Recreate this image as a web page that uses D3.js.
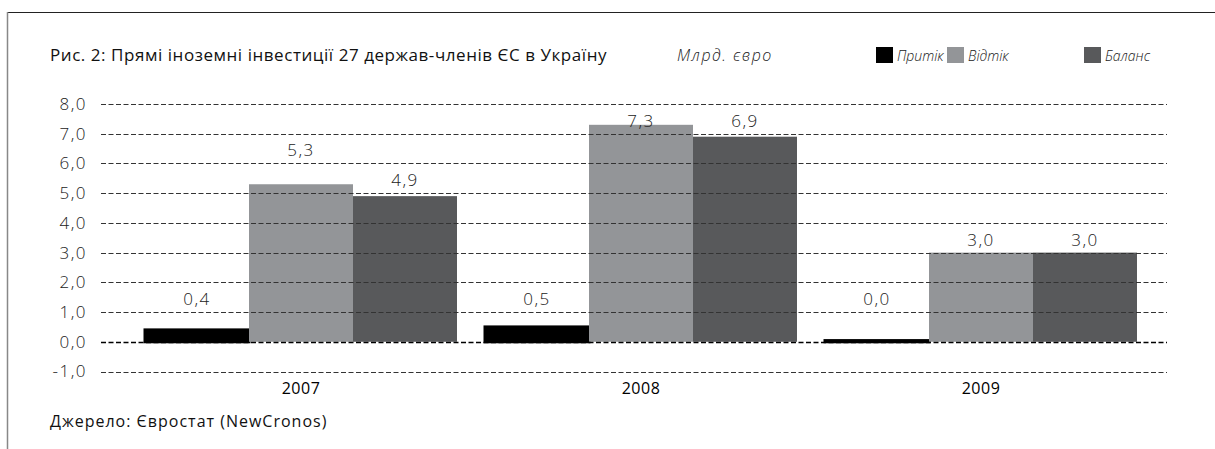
<!DOCTYPE html>
<html>
<head>
<meta charset="utf-8">
<script src="https://cdn.jsdelivr.net/npm/d3@7"></script>
<style>
  body { margin: 0; background: #fff; }
  svg { display: block; font-family: "Open Sans", "Noto Sans", sans-serif; }
</style>
</head>
<body>
<div id="chart-area"></div>
<script>
// data
const years = ["2007", "2008", "2009"]
const seriesNames = ["Притік", "Відтік", "Баланс"]
const inflow = [0.4, 0.5, 0.04]
const outflow = [5.3, 7.3, 3.0]
const balance = [4.9, 6.9, 3.0]
const yTicks = [-1, 0, 1, 2, 3, 4, 5, 6, 7, 8]

const colors = ["#000000", "#939598", "#58595b"]
const seriesValues = [inflow, outflow, balance]

const width = 1215
const height = 449
const plot = { left: 101, right: 1167, top: 104, bottom: 371.5 }

const svg = d3.select("#chart-area")
  .append("svg")
  .attr("width", width)
  .attr("height", height)

// frame
svg.append("line")
  .attr("x1", 7.5).attr("x2", width)
  .attr("y1", 12.5).attr("y2", 12.5)
  .attr("stroke", "#222").attr("stroke-width", 1)
svg.append("line")
  .attr("x1", 7.5).attr("x2", 7.5)
  .attr("y1", 12).attr("y2", height)
  .attr("stroke", "#888").attr("stroke-width", 1.5)

const yScale = d3.scaleLinear()
  .domain([-1, 8])
  .range([plot.bottom, plot.top])

const xScale = d3.scaleBand()
  .domain(years)
  .range([117, 1165])
  .paddingInner(28 / 340)
  .paddingOuter(28 / 340)

const xInner = d3.scaleBand()
  .domain(seriesNames)
  .range([0, xScale.bandwidth()])

const fmt = v => d3.format(".1f")(v).replace(".", ",").replace("−", "-")

// bars
const bars = []
years.forEach((yr, i) => {
  seriesNames.forEach((s, j) => {
    bars.push({ year: yr, series: s, value: seriesValues[j][i], color: colors[j] })
  })
})

svg.append("g")
  .selectAll("rect")
  .data(bars)
  .join("rect")
  .attr("x", d => xScale(d.year) + xInner(d.series))
  .attr("width", xInner.bandwidth())
  .attr("y", d => yScale(Math.max(0, d.value)))
  .attr("height", d => Math.abs(yScale(d.value) - yScale(0)))
  .attr("fill", d => d.color)
  .attr("stroke", d => d.color)
  .attr("stroke-width", d => d.series === "Притік" ? 3 : 0)

// gridlines over the bars
svg.append("g")
  .selectAll("line")
  .data(yTicks)
  .join("line")
  .attr("x1", plot.left)
  .attr("x2", plot.right)
  .attr("y1", d => Math.round(yScale(d)) + 0.5)
  .attr("y2", d => Math.round(yScale(d)) + 0.5)
  .attr("stroke", d => d === 0 ? "#000" : "#333")
  .attr("stroke-width", d => d === 0 ? 1.4 : 1)
  .attr("stroke-dasharray", "5,2.5")

const numStyle = sel => sel
  .attr("font-size", 17)
  .attr("font-weight", 300)
  .attr("letter-spacing", 1.5)
  .attr("fill", "#222")

// y tick labels
svg.append("g")
  .selectAll("text")
  .data(yTicks)
  .join("text")
  .attr("x", 87)
  .attr("y", d => yScale(d))
  .attr("dy", "0.35em")
  .attr("text-anchor", "end")
  .call(numStyle)
  .text(fmt)

// value labels, sitting just above the gridline at or over the bar top
const yMax = yScale.domain()[1]
svg.append("g")
  .selectAll("text")
  .data(bars)
  .join("text")
  .attr("x", d => xScale(d.year) + xInner(d.series) + xInner.bandwidth() / 2)
  .attr("y", d => yScale(Math.min(Math.max(Math.ceil(d.value), 1), yMax - 1)) - 7)
  .attr("text-anchor", "middle")
  .call(numStyle)
  .text(d => fmt(d.value))

// category labels
svg.append("g")
  .selectAll("text")
  .data(years)
  .join("text")
  .attr("x", d => xScale(d) + xScale.bandwidth() / 2)
  .attr("y", 394)
  .attr("text-anchor", "middle")
  .attr("font-size", 16)
  .attr("letter-spacing", 0.5)
  .attr("fill", "#000")
  .text(d => d)

// title and notes
svg.append("text")
  .attr("x", 50).attr("y", 61)
  .attr("font-size", 17)
  .attr("letter-spacing", 0.55)
  .attr("fill", "#111")
  .text("Рис. 2: Прямі іноземні інвестиції 27 держав-членів ЄС в Україну")

svg.append("text")
  .attr("x", 677).attr("y", 61)
  .attr("font-size", 16)
  .attr("font-weight", 300)
  .attr("font-style", "italic")
  .attr("letter-spacing", 1.5)
  .attr("fill", "#222")
  .text("Млрд. євро")

svg.append("text")
  .attr("x", 50).attr("y", 427)
  .attr("font-size", 16)
  .attr("letter-spacing", 1)
  .attr("fill", "#111")
  .text("Джерело: Євростат (NewCronos)")

// legend
const legendX = [876, 947, 1084]
const legend = svg.append("g")
  .selectAll("g")
  .data(seriesNames)
  .join("g")
  .attr("transform", (d, i) => `translate(${legendX[i]},47)`)

legend.append("rect")
  .attr("width", 17)
  .attr("height", 16)
  .attr("fill", (d, i) => colors[i])

legend.append("text")
  .attr("x", 21)
  .attr("y", 14)
  .attr("font-size", 14)
  .attr("font-weight", 300)
  .attr("font-style", "italic")
  .attr("fill", "#222")
  .text(d => d)
</script>
</body>
</html>
